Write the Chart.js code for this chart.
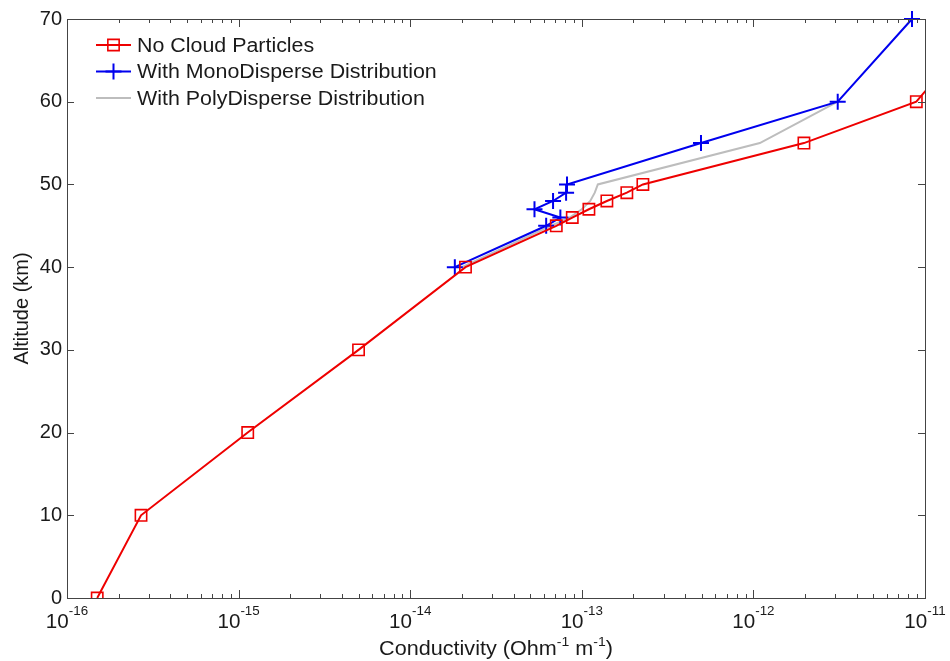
<!DOCTYPE html>
<html>
<head>
<meta charset="utf-8">
<script src="https://cdn.jsdelivr.net/npm/chart.js@4.4.1/dist/chart.umd.min.js"></script>
<style>
  html, body { margin: 0; padding: 0; background: #fff; }
  #wrap { width: 950px; height: 661px; }
</style>
</head>
<body>
<div id="wrap"><canvas id="chart" width="950" height="661"></canvas></div>
<script>
// altitude (km) and conductivity (Ohm^-1 m^-1)
const altNoCloud = [0, 10, 20, 30, 40, 45, 46, 47, 48, 49, 50, 55, 60, 70];
const condNoCloud = [1.5e-16, 2.7e-16, 1.13e-15, 5.0e-15, 2.1e-14, 7.1e-14, 8.8e-14, 1.1e-13, 1.4e-13, 1.83e-13, 2.27e-13, 1.97e-12, 8.9e-12, 2.3e-11];

const altMono = [40, 45, 46, 47, 48, 49, 50, 55, 60, 70];
const condMono = [1.82e-14, 6.2e-14, 7.5e-14, 5.3e-14, 6.8e-14, 8.1e-14, 8.2e-14, 4.95e-13, 3.1e-12, 8.4e-12];

const altPoly = [40, 45, 46, 47, 48, 49, 50, 55, 60];
const condPoly = [2.0e-14, 6.6e-14, 8.5e-14, 1.0e-13, 1.12e-13, 1.19e-13, 1.24e-13, 1.09e-12, 3.1e-12];

const seriesNames = ['No Cloud Particles', 'With MonoDisperse Distribution', 'With PolyDisperse Distribution'];
const xDecades = [-16, -15, -14, -13, -12, -11];
const yTickValues = [0, 10, 20, 30, 40, 50, 60, 70];

const axisColor = '#444';
const textColor = '#1a1a1a';
const fontFamily = '"Liberation Sans", Arial, sans-serif';

function toPoints(xs, ys) {
    return xs.map((v, i) => ({ x: v, y: ys[i] }));
}

// draw text stretched horizontally like the source figure
function stretchText(ctx, text, x, y, sx) {
    ctx.save();
    ctx.translate(x, y);
    ctx.scale(sx, 1);
    ctx.fillText(text, 0, 0);
    ctx.restore();
}

const decorations = {
    id: 'decorations',
    afterDraw(chart) {
        const { ctx, chartArea: a, scales } = chart;
        const xs = scales.x, ys = scales.y;
        ctx.save();

        // axes box
        ctx.strokeStyle = axisColor;
        ctx.lineWidth = 1;
        ctx.strokeRect(Math.round(a.left) + 0.5, Math.round(a.top) + 0.5,
            Math.round(a.right - a.left), Math.round(a.bottom - a.top));

        // log ticks, pointing inward, top and bottom
        ctx.beginPath();
        xDecades.forEach((d, i) => {
            for (let k = 1; k <= 9; k++) {
                if (i === xDecades.length - 1 && k > 1) break;
                const px = Math.round(xs.getPixelForValue(k * Math.pow(10, d))) + 0.5;
                const len = k === 1 ? 8 : 4;
                ctx.moveTo(px, a.bottom);
                ctx.lineTo(px, a.bottom - len);
                ctx.moveTo(px, a.top);
                ctx.lineTo(px, a.top + len);
            }
        });
        // y ticks left and right
        yTickValues.forEach(v => {
            const py = Math.round(ys.getPixelForValue(v)) + 0.5;
            ctx.moveTo(a.left, py);
            ctx.lineTo(a.left + 7, py);
            ctx.moveTo(a.right, py);
            ctx.lineTo(a.right - 7, py);
        });
        ctx.stroke();

        ctx.fillStyle = textColor;
        ctx.textBaseline = 'alphabetic';
        ctx.textAlign = 'left';

        // x tick labels: 10 with superscript exponent
        const sx = 1.03;
        xDecades.forEach(d => {
            const px = xs.getPixelForValue(Math.pow(10, d));
            ctx.font = '20px ' + fontFamily;
            const wBase = ctx.measureText('10').width * sx;
            ctx.font = '13px ' + fontFamily;
            const exp = String(d);
            const wExp = ctx.measureText(exp).width * sx;
            const x0 = px - (wBase + wExp) / 2;
            ctx.font = '20px ' + fontFamily;
            stretchText(ctx, '10', x0, a.bottom + 30, sx);
            ctx.font = '13px ' + fontFamily;
            stretchText(ctx, exp, x0 + wBase, a.bottom + 17, sx);
        });

        // x axis title with superscripts
        const tsx = 1.08;
        const parts = [
            ['Conductivity (Ohm', 20, 0],
            ['-1', 13, -9],
            [' m', 20, 0],
            ['-1', 13, -9],
            [')', 20, 0]
        ];
        let total = 0;
        parts.forEach(p => {
            ctx.font = p[1] + 'px ' + fontFamily;
            total += ctx.measureText(p[0]).width * tsx;
        });
        let tx = (a.left + a.right) / 2 - total / 2;
        parts.forEach(p => {
            ctx.font = p[1] + 'px ' + fontFamily;
            stretchText(ctx, p[0], tx, 655 + p[2], tsx);
            tx += ctx.measureText(p[0]).width * tsx;
        });

        // legend in the top-left corner
        chart.data.datasets.forEach((ds, i) => {
            const ly = 45 + i * 26.5;
            ctx.strokeStyle = ds.borderColor;
            ctx.lineWidth = ds.borderWidth;
            ctx.beginPath();
            ctx.moveTo(96, ly);
            ctx.lineTo(131, ly);
            ctx.stroke();
            if (ds.pointRadius > 0) {
                ctx.lineWidth = ds.pointBorderWidth;
                ctx.strokeStyle = ds.pointBorderColor;
                ctx.fillStyle = 'rgba(0,0,0,0)';
                Chart.helpers.drawPoint(ctx, {
                    pointStyle: ds.pointStyle, radius: ds.pointRadius,
                    rotation: 0, borderWidth: ds.pointBorderWidth
                }, 113.5, ly);
            }
            ctx.fillStyle = textColor;
            ctx.font = '20px ' + fontFamily;
            ctx.textBaseline = 'middle';
            stretchText(ctx, ds.label, 137, ly + 1, 1.07);
        });

        ctx.restore();
    }
};

new Chart(document.getElementById('chart'), {
    type: 'scatter',
    data: {
        datasets: [
            {
                label: seriesNames[0],
                data: toPoints(condNoCloud, altNoCloud),
                showLine: true,
                borderColor: '#ee0000',
                borderWidth: 2,
                pointStyle: 'rect',
                pointRadius: 8,
                pointBorderWidth: 1.6,
                pointBorderColor: '#ee0000',
                pointBackgroundColor: 'rgba(0,0,0,0)'
            },
            {
                label: seriesNames[1],
                data: toPoints(condMono, altMono),
                showLine: true,
                clip: false,
                borderColor: '#0000ee',
                borderWidth: 2,
                pointStyle: 'cross',
                pointRadius: 8,
                pointBorderWidth: 2,
                pointBorderColor: '#0000ee'
            },
            {
                label: seriesNames[2],
                data: toPoints(condPoly, altPoly),
                showLine: true,
                borderColor: '#bdbdbd',
                borderWidth: 2,
                pointRadius: 0
            }
        ]
    },
    options: {
        responsive: false,
        animation: false,
        events: [],
        layout: { padding: { left: 0, right: 25, top: 19, bottom: 0 } },
        plugins: { legend: { display: false }, tooltip: { enabled: false } },
        scales: {
            x: {
                type: 'logarithmic',
                min: 1e-16,
                max: 1e-11,
                border: { display: false },
                grid: { display: false, drawTicks: false },
                ticks: { display: false },
                afterFit(scale) { scale.height = 63; }
            },
            y: {
                type: 'linear',
                min: 0,
                max: 70,
                border: { display: false },
                grid: { display: false, drawTicks: false },
                afterBuildTicks(scale) {
                    scale.ticks = yTickValues.map(v => ({ value: v }));
                },
                ticks: {
                    color: textColor,
                    padding: 5,
                    font: { family: fontFamily, size: 20 }
                },
                title: {
                    display: true,
                    text: 'Altitude (km)',
                    color: textColor,
                    font: { family: fontFamily, size: 20 },
                    padding: { top: 10, bottom: 0 }
                },
                afterFit(scale) { scale.width = 67; }
            }
        }
    },
    plugins: [decorations]
});
</script>
</body>
</html>
